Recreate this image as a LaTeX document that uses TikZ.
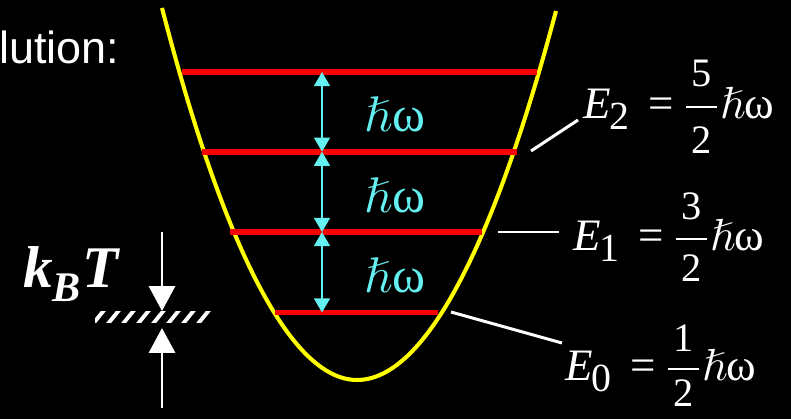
\RequirePackage{fix-cm}
\documentclass[tikz,border=0pt]{standalone}
\usepackage{amssymb}
\usepackage[no-math]{fontspec}
\setmainfont{Liberation Serif}
\newfontfamily\arialfont{Liberation Sans}
\usepackage{tikz}
\usetikzlibrary{arrows.meta}

\definecolor{hcyan}{RGB}{100,240,240}
\definecolor{lvlred}{RGB}{255,0,0}
\definecolor{wellyellow}{RGB}{255,255,0}

% fraction n/2 and the level label E_n = n/2 hbar omega
\newcommand{\halffrac}[2]{$\vcenter{\hbox{\fontsize{23}{#2}\selectfont
  \arrayrulewidth=1.1pt
  \begin{tabular}{@{\hspace{3pt}}c@{\hspace{3pt}}}#1\\\hline 2\end{tabular}}}$}
\newcommand{\elevel}[3]{\textit{E}\kern-1pt\raisebox{-6.8pt}{\fontsize{22.7}{24}\selectfont #1}%
  \hspace{11pt}=\hspace{7pt}\halffrac{#2}{#3}\kern2pt$\hslash$ω}

\begin{document}
\begin{tikzpicture}[
  x=0.02cm, y=-0.02cm,
  well/.style={wellyellow, line width=2.3pt},
  level/.style={lvlred, line width=3.2pt},
  gap/.style={hcyan, line width=1.1pt,
    {Triangle[width=9pt,length=8pt]}-{Triangle[width=9pt,length=8pt]}},
  hw/.style={text=hcyan, anchor=base, inner sep=0,
    font=\fontsize{28.5}{30}\selectfont},
  elabel/.style={text=white, anchor=base west, inner sep=0,
    font=\fontsize{25.6}{30}\selectfont},
  leader/.style={white, line width=1.7pt},
  kbarrow/.style={white, line width=1.7pt,
    -{Triangle[width=14.8pt,length=14.2pt]}}
]
\useasboundingbox (0,0) rectangle (791,419);
\fill[black] (0,0) rectangle (791,419);

% title (cut off at the left edge)
\node[text=white, anchor=base west, inner sep=0,
  font={\arialfont\fontsize{25.6}{30}\selectfont}] (sol) at (-1,63) {lution:};

% potential well
\draw[well] (162,8) parabola bend (357,380) (556,11);

% energy levels
\foreach \n/\y/\xl/\xr in {0/312.5/275/438, 1/232/230/482, 2/151.7/202/517, 3/72/182/537}{
  \coordinate (l\n w) at (\xl,\y);
  \coordinate (l\n e) at (\xr,\y);
  \coordinate (a\n) at (322,\y);
  \draw[level] (l\n w) -- (l\n e);
}

% spacings
\foreach \n/\m in {0/1, 1/2, 2/3}
  \draw[gap] (a\n) -- (a\m);
\node[hw] (hw3) at (395,131) {$\hslash$ω};
\node[hw] (hw2) at (395,212) {$\hslash$ω};
\node[hw] (hw1) at (395,292) {$\hslash$ω};

% level labels
\node[elabel] (e2) at (583,118) {\elevel{2}{5}{37}};
\node[elabel] (e1) at (573,250) {\elevel{1}{3}{34}};
\node[elabel] (e0) at (565,380) {\elevel{0}{1}{30}};
\coordinate (p2) at (531,151);
\coordinate (q2) at (578,120);
\coordinate (p1) at (498,232);
\coordinate (q1) at (559,232);
\coordinate (p0) at (451,312);
\coordinate (q0) at (562,343);
\draw[leader] (p2) -- (q2);
\draw[leader] (p1) -- (q1);
\draw[leader] (p0) -- (q0);

% thermal energy
\node[text=white, anchor=base west, inner sep=0,
  font=\fontsize{33.6}{36}\selectfont\bfseries\itshape] (kbt) at (23,287)
  {k\raisebox{-8.5pt}{\fontsize{24}{26}\selectfont B}\kern1pt T};
\begin{scope}
  \clip (95,311) rectangle (211,322);
  \foreach \i in {0,...,8}
    \draw[white, line width=2.2pt] ({92+15*\i},325) -- ++(13,-16);
\end{scope}
\coordinate (kt) at (162,232);
\coordinate (kb) at (162,311);
\coordinate (ku) at (162,328);
\coordinate (kd) at (162,408);
\draw[kbarrow] (kt) -- (kb);
\draw[kbarrow] (kd) -- (ku);

\end{tikzpicture}
\end{document}
